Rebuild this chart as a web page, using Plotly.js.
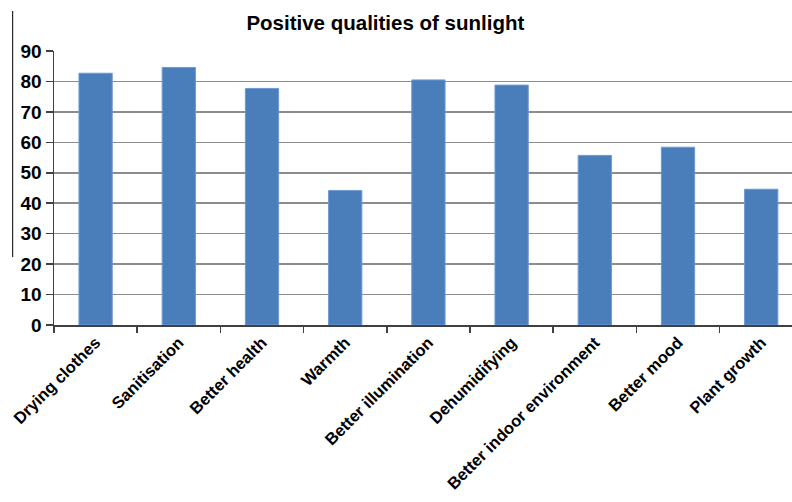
<!DOCTYPE html>
<html>
<head>
<meta charset="utf-8">
<script src="https://cdn.plot.ly/plotly-3.0.1.min.js"></script>
<style>html,body{margin:0;padding:0;background:#fff;}#chart{width:792px;height:502px;}</style>
</head>
<body>
<div id="chart"></div>
<script>
const categories = ["Drying clothes", "Sanitisation", "Better health", "Warmth", "Better illumination", "Dehumidifying", "Better indoor environment", "Better mood", "Plant growth"];
const values = [82.7, 84.6, 77.7, 44.2, 80.5, 78.8, 55.7, 58.4, 44.6];
const yTicks = [0, 10, 20, 30, 40, 50, 60, 70, 80, 90];

const trace = {
  type: "bar",
  x: categories,
  y: values,
  marker: { color: "#4a7ebb", line: { color: "#6d9ad3", width: 1 } },
  hoverinfo: "x+y"
};

const layout = {
  width: 792,
  height: 502,
  margin: { l: 54, r: 0, t: 51, b: 177 },
  paper_bgcolor: "#ffffff",
  plot_bgcolor: "#ffffff",
  showlegend: false,
  bargap: 0.6,
  title: {
    text: "<b>Positive qualities of sunlight</b>",
    font: { family: "Liberation Sans, Arial, sans-serif", size: 20.5, color: "#000" },
    x: 0.449, xanchor: "center", xref: "paper",
    y: 0.954, yanchor: "middle", yref: "container"
  },
  xaxis: {
    type: "category",
    range: [-0.5, 8.37],
    tickangle: -45,
    tickfont: { family: "Liberation Sans, Arial, sans-serif", size: 16.5, color: "#000", weight: "bold" },
    showline: true, linecolor: "#404040", linewidth: 1.5,
    ticks: "outside", ticklen: 6, tickcolor: "#404040", tickwidth: 1.5,
    tickson: "boundaries",
    showgrid: false,
    fixedrange: true
  },
  yaxis: {
    range: [0, 90],
    tickvals: yTicks,
    ticktext: yTicks.map(String),
    tickfont: { family: "Liberation Sans, Arial, sans-serif", size: 19, color: "#000", weight: "bold" },
    showline: true, linecolor: "#404040", linewidth: 1.5,
    ticks: "outside", ticklen: 7, tickcolor: "#404040", tickwidth: 1.5,
    showgrid: true, gridcolor: "#8c8c8c", gridwidth: 1.5,
    zeroline: false,
    fixedrange: true
  },
  shapes: [
    { type: "line", xref: "paper", yref: "paper", x0: -0.056, x1: -0.056, y0: 0.248, y1: 1.146,
      line: { color: "#000", width: 1 } }
  ]
};

Plotly.newPlot("chart", [trace], layout, { displayModeBar: false, staticPlot: true });
</script>
</body>
</html>
